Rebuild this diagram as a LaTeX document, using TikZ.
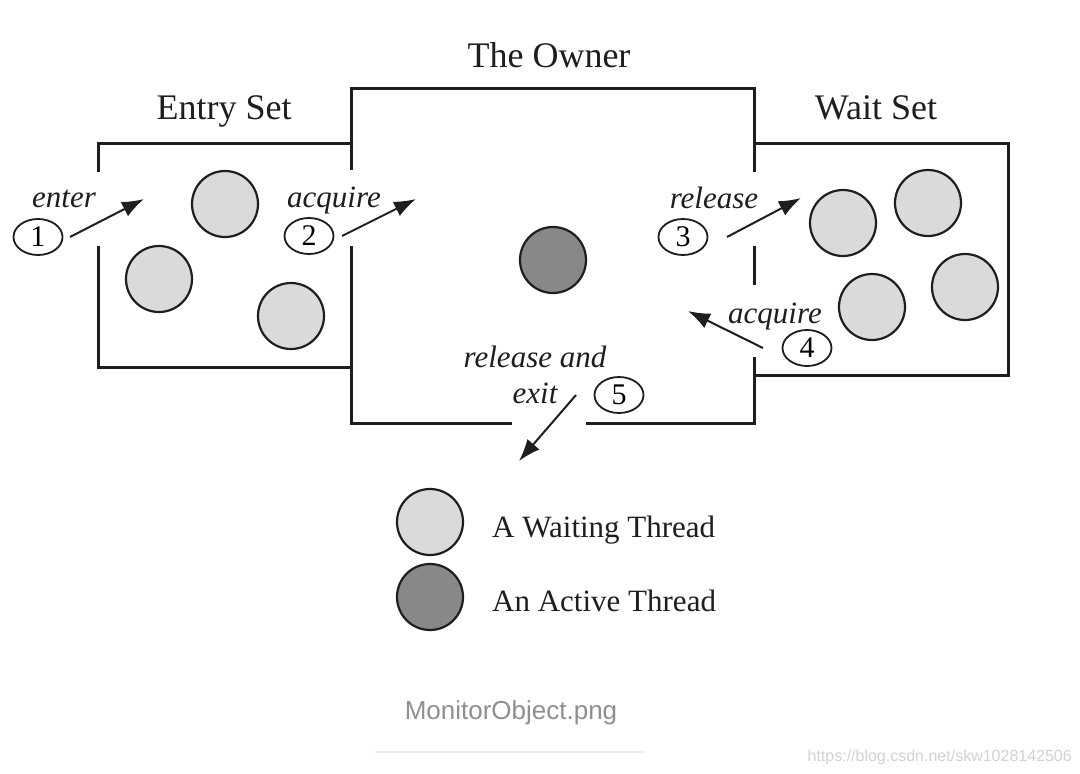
\documentclass[tikz,border=0pt]{standalone}
\usepackage{fontspec}
\setmainfont{Liberation Serif}
\newfontfamily\capfont{Liberation Sans}
\usetikzlibrary{shapes.geometric,arrows.meta}
\definecolor{waitgray}{HTML}{DADADA}
\definecolor{activegray}{HTML}{888888}
\definecolor{inkcol}{HTML}{1E1E1E}
\definecolor{capgray}{HTML}{8F8F8F}
\definecolor{rulegray}{HTML}{EEEEEE}
\definecolor{urlgray}{HTML}{D2D2D2}
\begin{document}
\begin{tikzpicture}[x=1pt,y=-1pt,
  wall/.style={line width=3pt, line cap=rect, draw=inkcol},
  waiting/.style={circle, draw=inkcol, line width=2.2pt, fill=waitgray, minimum size=66pt, inner sep=0pt},
  activethr/.style={circle, draw=inkcol, line width=2.2pt, fill=activegray, minimum size=66pt, inner sep=0pt},
  num/.style={ellipse, draw=inkcol, line width=1.8pt, minimum width=49pt, minimum height=36pt, inner sep=0pt, font=\fontsize{30}{30}\selectfont},
  lbl/.style={font=\fontsize{31}{31}\selectfont\itshape, anchor=base, inner sep=0pt, text=inkcol},
  ttl/.style={font=\fontsize{36}{36}\selectfont, anchor=base, inner sep=0pt, text=inkcol},
  leg/.style={font=\fontsize{31}{31}\selectfont, anchor=base west, inner sep=0pt, text=inkcol},
  arr/.style={line width=2pt, draw=inkcol, -{Latex[length=22pt,width=16pt]}},
]
\useasboundingbox[fill=white] (0,0) rectangle (1080,774);

% Entry set walls
\draw[wall] (98,170) -- (98,143) -- (351,143);
\draw[wall] (98,247) -- (98,367) -- (351,367);
% Owner walls
\draw[wall] (351,168) -- (351,88) -- (754,88) -- (754,170);
\draw[wall] (351,247) -- (351,423) -- (510,423);
\draw[wall] (587,423) -- (754,423) -- (754,358);
\draw[wall] (754,247) -- (754,283);
% Wait set walls
\draw[wall] (754,143) -- (1008,143) -- (1008,375) -- (754,375);

% titles
\node[ttl] (tEntry) at (224,119) {Entry Set};
\node[ttl] (tOwner) at (549,67) {The Owner};
\node[ttl] (tWait) at (876,119) {Wait Set};

% threads
\node[waiting] (e1) at (225,204) {};
\node[waiting] (e2) at (159,279) {};
\node[waiting] (e3) at (291,316) {};
\node[activethr] (own) at (553,260) {};
\node[waiting] (w1) at (843,223) {};
\node[waiting] (w2) at (928,203) {};
\node[waiting] (w3) at (872,307) {};
\node[waiting] (w4) at (965,287) {};

% numbered steps
\node[num] (n1) at (38,237) {1};
\node[num] (n2) at (309,236) {2};
\node[num] (n3) at (683,237) {3};
\node[num] (n4) at (807,348) {4};
\node[num] (n5) at (619,395) {5};

% labels
\node[lbl] (l1) at (64,207) {enter};
\node[lbl] (l2) at (334,207) {acquire};
\node[lbl] (l3) at (714,208) {release};
\node[lbl] (l4) at (775,323) {acquire};
\node[lbl] (l5a) at (535,367) {release and};
\node[lbl] (l5b) at (535,403) {exit};

% arrow endpoints
\coordinate (a1s) at (70,237);  \coordinate (a1e) at (144,199);
\coordinate (a2s) at (342,236); \coordinate (a2e) at (416,199);
\coordinate (a3s) at (727,237); \coordinate (a3e) at (801,198);
\coordinate (a4s) at (763,348); \coordinate (a4e) at (688,311);
\coordinate (a5s) at (576,395); \coordinate (a5e) at (519,461);
\draw[arr] (a1s) -- (a1e);
\draw[arr] (a2s) -- (a2e);
\draw[arr] (a3s) -- (a3e);
\draw[arr] (a4s) -- (a4e);
\draw[arr] (a5s) -- (a5e);

% legend
\node[waiting] (legW) at (430,522) {};
\node[activethr] (legA) at (430,597) {};
\node[leg] (legWt) at (492,537) {A Waiting Thread};
\node[leg] (legAt) at (492,611) {An Active Thread};

% caption
\node[font=\capfont\fontsize{26}{26}\selectfont, text=capgray, anchor=base, inner sep=0pt] (cap) at (511,719) {MonitorObject.png};
\coordinate (r1) at (375,752); \coordinate (r2) at (646,752);
\draw[rulegray, line width=1.5pt] (r1) -- (r2);
\node[font=\capfont\fontsize{16}{16}\selectfont, text=urlgray, anchor=base east, inner sep=0pt] (url) at (1072,761) {https://blog.csdn.net/skw1028142506};
\end{tikzpicture}
\end{document}
